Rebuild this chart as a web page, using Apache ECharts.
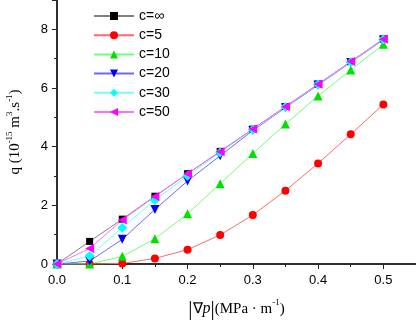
<!DOCTYPE html>
<html>
<head>
<meta charset="utf-8">
<script src="https://cdn.jsdelivr.net/npm/echarts@6/dist/echarts.min.js"></script>
<style>
  html, body { margin: 0; padding: 0; background: #fff; }
  #box { width: 416px; height: 322px; }
</style>
</head>
<body>
<div id="box"></div>
<script>
const gradients = [0, 0.05, 0.1, 0.15, 0.2, 0.25, 0.3, 0.35, 0.4, 0.45, 0.5];
const seriesNames = ['c=∞', 'c=5', 'c=10', 'c=20', 'c=30', 'c=50'];
const qInf = [0, 0.77, 1.53, 2.31, 3.08, 3.84, 4.6, 5.37, 6.13, 6.9, 7.67];
const q5 = [0, 0, 0.02, 0.19, 0.49, 0.99, 1.67, 2.5, 3.43, 4.42, 5.44];
const q10 = [0, 0, 0.26, 0.86, 1.71, 2.74, 3.77, 4.77, 5.73, 6.61, 7.49];
const q20 = [0, 0.1, 0.84, 1.86, 2.83, 3.69, 4.55, 5.33, 6.1, 6.87, 7.64];
const q30 = [0, 0.27, 1.24, 2.18, 3.01, 3.8, 4.58, 5.35, 6.12, 6.88, 7.65];
const q50 = [0, 0.53, 1.5, 2.3, 3.08, 3.83, 4.6, 5.36, 6.13, 6.9, 7.66];

// marker colour, line colour, symbol, size, rotate
const styles = [
  ['#000000', '#808080', 'rect', 7, 0],
  ['#ff0000', '#ff6a6a', 'circle', 8, 0],
  ['#00e000', '#70ff70', 'triangle', 9, 0],
  ['#0000ff', '#6a6aff', 'triangle', 9, 180],
  ['#00ffff', '#70ffff', 'diamond', 10, 0],
  ['#ff00ff', '#ff70ff', 'triangle', 9, 90]
];
const values = [qInf, q5, q10, q20, q30, q50];

const chart = echarts.init(document.getElementById('box'));
const font = 'Arial, "Liberation Sans", sans-serif';
const serif = '"Times New Roman", "Liberation Serif", serif';

const series = values.map((v, i) => {
  const s = styles[i];
  return {
    name: seriesNames[i],
    type: 'line',
    xAxisIndex: 0,
    yAxisIndex: 0,
    data: gradients.map((x, j) => [x, v[j]]),
    symbol: s[2],
    symbolSize: s[3],
    symbolRotate: s[4],
    showAllSymbol: true,
    itemStyle: { color: s[0] },
    lineStyle: { color: s[1], width: 1 }
  };
});

const axisLine = { show: true, lineStyle: { color: '#222', width: 1.5 } };

chart.setOption({
  animation: false,
  grid: { left: 57, right: 0, top: 0, bottom: 58, containLabel: false, outerBoundsMode: 'none' },
  legend: {
    orient: 'vertical',
    left: 93,
    top: 9,
    padding: 0,
    itemWidth: 40,
    itemHeight: 10,
    itemGap: 5.2,
    textStyle: { fontFamily: font, fontSize: 14, color: '#000' },
    data: seriesNames
  },
  xAxis: [
    {
      type: 'value', min: 0, max: 0.55, interval: 0.05,
      axisLine: axisLine,
      axisTick: { show: true, inside: false, length: 3, lineStyle: { color: '#222' } },
      axisLabel: { show: false },
      splitLine: { show: false }
    },
    {
      type: 'value', min: 0, max: 0.55, interval: 0.1, position: 'bottom',
      axisLine: axisLine,
      axisTick: { show: true, inside: false, length: 5, lineStyle: { color: '#222' } },
      axisLabel: {
        fontFamily: font, fontSize: 13, color: '#000', margin: 10,
        formatter: v => (Math.abs(v * 10 - Math.round(v * 10)) < 1e-6 ? v.toFixed(1) : '')
      },
      splitLine: { show: false },
      name: '{bar||}{n|∇}{i|p}{bar||}{n|(MPa · m}{sup|-1}{n|)}',
      nameLocation: 'middle',
      nameGap: 34,
      nameTextStyle: {
        rich: {
          bar: { fontFamily: serif, fontSize: 21, lineHeight: 22, color: '#000' },
          n: { fontFamily: serif, fontSize: 15, lineHeight: 22, color: '#000' },
          i: { fontFamily: serif, fontSize: 16, fontStyle: 'italic', lineHeight: 22, color: '#000' },
          sup: { fontFamily: serif, fontSize: 9, lineHeight: 14, verticalAlign: 'top', color: '#000' }
        }
      }
    }
  ],
  yAxis: [
    {
      type: 'value', min: 0, max: 9, interval: 1, position: 'left',
      axisLine: axisLine,
      axisTick: { show: true, inside: false, length: 3, lineStyle: { color: '#222' } },
      axisLabel: { show: false },
      splitLine: { show: false }
    },
    {
      type: 'value', min: 0, max: 9, interval: 2, position: 'left',
      axisLine: axisLine,
      axisTick: { show: true, inside: false, length: 5, lineStyle: { color: '#222' } },
      axisLabel: {
        fontFamily: font, fontSize: 13, color: '#000', margin: 9,
        formatter: v => (v % 2 === 0 ? String(v) : '')
      },
      splitLine: { show: false },
      name: '{n|q (10}{sup|-15}{n| m}{sup|3}{n|.s}{sup|-1}{n|)}',
      nameLocation: 'middle',
      nameRotate: 90,
      nameGap: 32,
      nameTextStyle: {
        rich: {
          n: { fontFamily: serif, fontSize: 15, lineHeight: 20, color: '#000' },
          sup: { fontFamily: serif, fontSize: 9, lineHeight: 14, verticalAlign: 'top', color: '#000' }
        }
      }
    }
  ],
  series: series
});
</script>
</body>
</html>
